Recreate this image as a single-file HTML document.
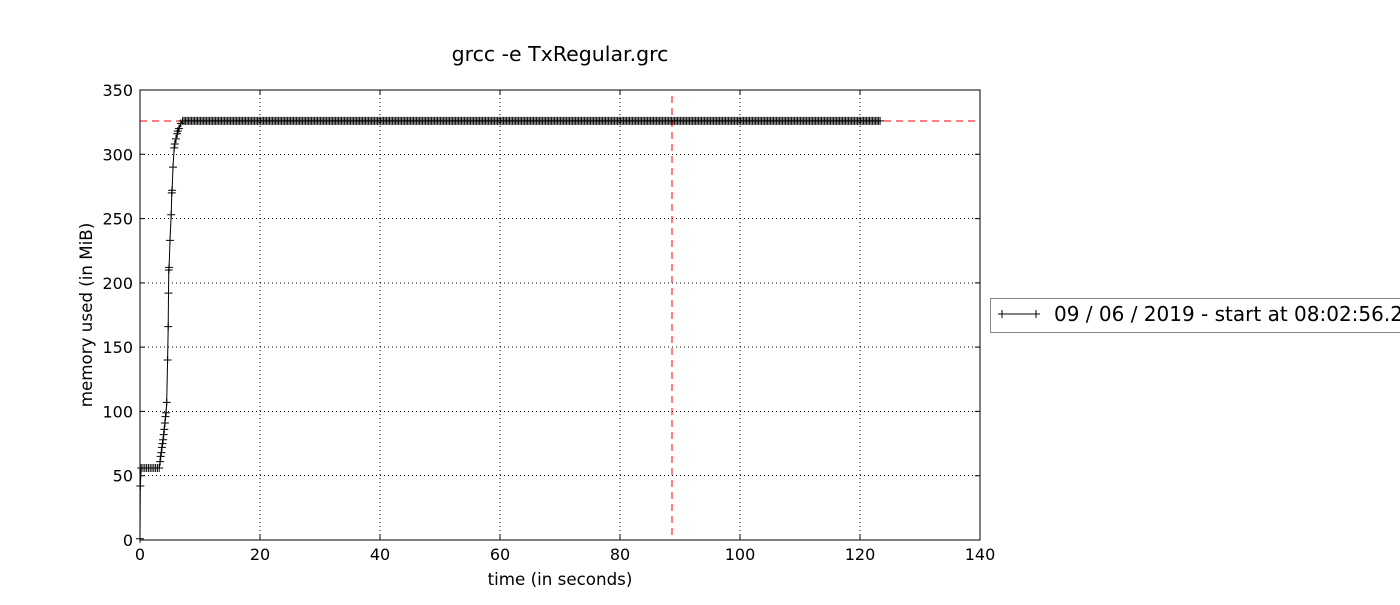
<!DOCTYPE html>
<html><head><meta charset="utf-8"><style>
html,body{margin:0;padding:0;background:#fff;}
svg text{font-family:"DejaVu Sans","Liberation Sans",sans-serif;}
</style></head><body>
<svg id="chart" width="1400" height="600" xmlns="http://www.w3.org/2000/svg">
<text x="560" y="61" font-size="20.5" text-anchor="middle">grcc -e TxRegular.grc</text>
<g id="grid" shape-rendering="crispEdges"></g>
<g id="ticks"></g>
<g id="refs" shape-rendering="crispEdges"></g>
<g id="series"></g>
<rect x="140" y="90" width="840" height="450" fill="none" stroke="#000" stroke-width="1" shape-rendering="crispEdges"/>
<text x="560" y="585" font-size="16.7" text-anchor="middle">time (in seconds)</text>
<text transform="translate(92,315) rotate(-90)" font-size="16.7" text-anchor="middle">memory used (in MiB)</text>
<g>
<rect x="990.5" y="298.5" width="420" height="34" fill="#fff" stroke="#888" stroke-width="1"/>
<line x1="1002" y1="314" x2="1036" y2="314" stroke="#000" stroke-width="1"/>
<path d="M998,314h8M1002,310v8M1032,314h8M1036,310v8" stroke="#000" stroke-width="1"/>
<text x="1054" y="321" font-size="20">09 / 06 / 2019 - start at 08:02:56.2</text>
</g>
</svg>
<script>
const xTicks=[0,20,40,60,80,100,120,140];
const yTicks=[0,50,100,150,200,250,300,350];
const rampTime=[0,0.05,0.2,0.5,0.8,1.1,1.4,1.7,2.0,2.3,2.6,2.9,3.2,3.35,3.45,3.55,3.65,3.75,3.85,3.95,4.05,4.15,4.25,4.35,4.45,4.6,4.7,4.75,4.8,4.85,5.0,5.2,5.3,5.35,5.5,5.7,5.8,6.0,6.2,6.3,6.5,6.8,7.1];
const rampMem=[1,42,56,56,56,56,56,56,56,56,56,56,56,61,65,68,72,75,78,82,86,91,96,99,107,140,166,192,210,212,233,253,270,272,290,305,308,312,316,318,320,324,326];
const plateauStart=7.35, plateauStep=0.25;
const plateauMem=[
326,326,326,326,326,326,326,326,326,326,326,326,326,326,326,326,326,326,326,326,
326,326,326,326,326,326,326,326,326,326,326,326,326,326,326,326,326,326,326,326,
326,326,326,326,326,326,326,326,326,326,326,326,326,326,326,326,326,326,326,326,
326,326,326,326,326,326,326,326,326,326,326,326,326,326,326,326,326,326,326,326,
326,326,326,326,326,326,326,326,326,326,326,326,326,326,326,326,326,326,326,326,
326,326,326,326,326,326,326,326,326,326,326,326,326,326,326,326,326,326,326,326,
326,326,326,326,326,326,326,326,326,326,326,326,326,326,326,326,326,326,326,326,
326,326,326,326,326,326,326,326,326,326,326,326,326,326,326,326,326,326,326,326,
326,326,326,326,326,326,326,326,326,326,326,326,326,326,326,326,326,326,326,326,
326,326,326,326,326,326,326,326,326,326,326,326,326,326,326,326,326,326,326,326,
326,326,326,326,326,326,326,326,326,326,326,326,326,326,326,326,326,326,326,326,
326,326,326,326,326,326,326,326,326,326,326,326,326,326,326,326,326,326,326,326,
326,326,326,326,326,326,326,326,326,326,326,326,326,326,326,326,326,326,326,326,
326,326,326,326,326,326,326,326,326,326,326,326,326,326,326,326,326,326,326,326,
326,326,326,326,326,326,326,326,326,326,326,326,326,326,326,326,326,326,326,326,
326,326,326,326,326,326,326,326,326,326,326,326,326,326,326,326,326,326,326,326,
326,326,326,326,326,326,326,326,326,326,326,326,326,326,326,326,326,326,326,326,
326,326,326,326,326,326,326,326,326,326,326,326,326,326,326,326,326,326,326,326,
326,326,326,326,326,326,326,326,326,326,326,326,326,326,326,326,326,326,326,326,
326,326,326,326,326,326,326,326,326,326,326,326,326,326,326,326,326,326,326,326,
326,326,326,326,326,326,326,326,326,326,326,326,326,326,326,326,326,326,326,326,
326,326,326,326,326,326,326,326,326,326,326,326,326,326,326,326,326,326,326,326,
326,326,326,326,326,326,326,326,326,326,326,326,326,326,326,326,326,326,326,326,
326,326,326,326,326];
const maxMem=[326];
const maxTime=[88.7];

const NS="http://www.w3.org/2000/svg";
const X=t=>140+t*(840/140);
const Y=v=>540-v*(450/350);
function mk(tag,attrs,parent){const e=document.createElementNS(NS,tag);for(const k in attrs)e.setAttribute(k,attrs[k]);parent.appendChild(e);return e;}
const grid=document.getElementById('grid'),ticks=document.getElementById('ticks'),refs=document.getElementById('refs'),series=document.getElementById('series');
xTicks.forEach(t=>{
  const x=X(t);
  if(t>0&&t<140){const g=mk('line',{x1:x,x2:x,y1:90,y2:540,stroke:'#000','stroke-width':1,'stroke-dasharray':'1,3'},grid);
  
  }
  mk('path',{d:`M${x},540v-5M${x},90v5`,stroke:'#000'},ticks);
  const l=mk('text',{x:x,y:560,'font-size':16,'text-anchor':'middle'},ticks);l.textContent=t;
  
  
});
yTicks.forEach(v=>{
  const y=Y(v);
  if(v>0&&v<350){const g=mk('line',{x1:140,x2:980,y1:y,y2:y,stroke:'#000','stroke-width':1,'stroke-dasharray':'1,3'},grid);
  
  }
  mk('path',{d:`M140,${y}h5M980,${y}h-5`,stroke:'#000'},ticks);
  const l=mk('text',{x:133,y:y+6,'font-size':16,'text-anchor':'end'},ticks);l.textContent=v;
  
  
});
const hl=mk('line',{x1:140,x2:980,y1:Y(maxMem[0]),y2:Y(maxMem[0]),stroke:'#f00','stroke-dasharray':'7,5'},refs);


const vl=mk('line',{x1:X(maxTime[0]),x2:X(maxTime[0]),y1:96,y2:540,stroke:'#f00','stroke-dasharray':'7,5'},refs);


const T=rampTime.slice(),M=rampMem.slice();
plateauMem.forEach((v,i)=>{T.push(plateauStart+i*plateauStep);M.push(v);});
let d='';T.forEach((t,i)=>{d+=(i?'L':'M')+X(t).toFixed(1)+','+Y(M[i]).toFixed(1);});
const ln=mk('path',{d:d,fill:'none',stroke:'#000','stroke-width':1},series);


let md='';T.forEach((t,i)=>{const x=X(t),y=Y(M[i]);md+=`M${(x-4).toFixed(1)},${y.toFixed(1)}h8M${x.toFixed(1)},${(y-4).toFixed(1)}v8`;});
const mp=mk('path',{d:md,fill:'none',stroke:'#000','stroke-width':1},series);


</script>
</body></html>
